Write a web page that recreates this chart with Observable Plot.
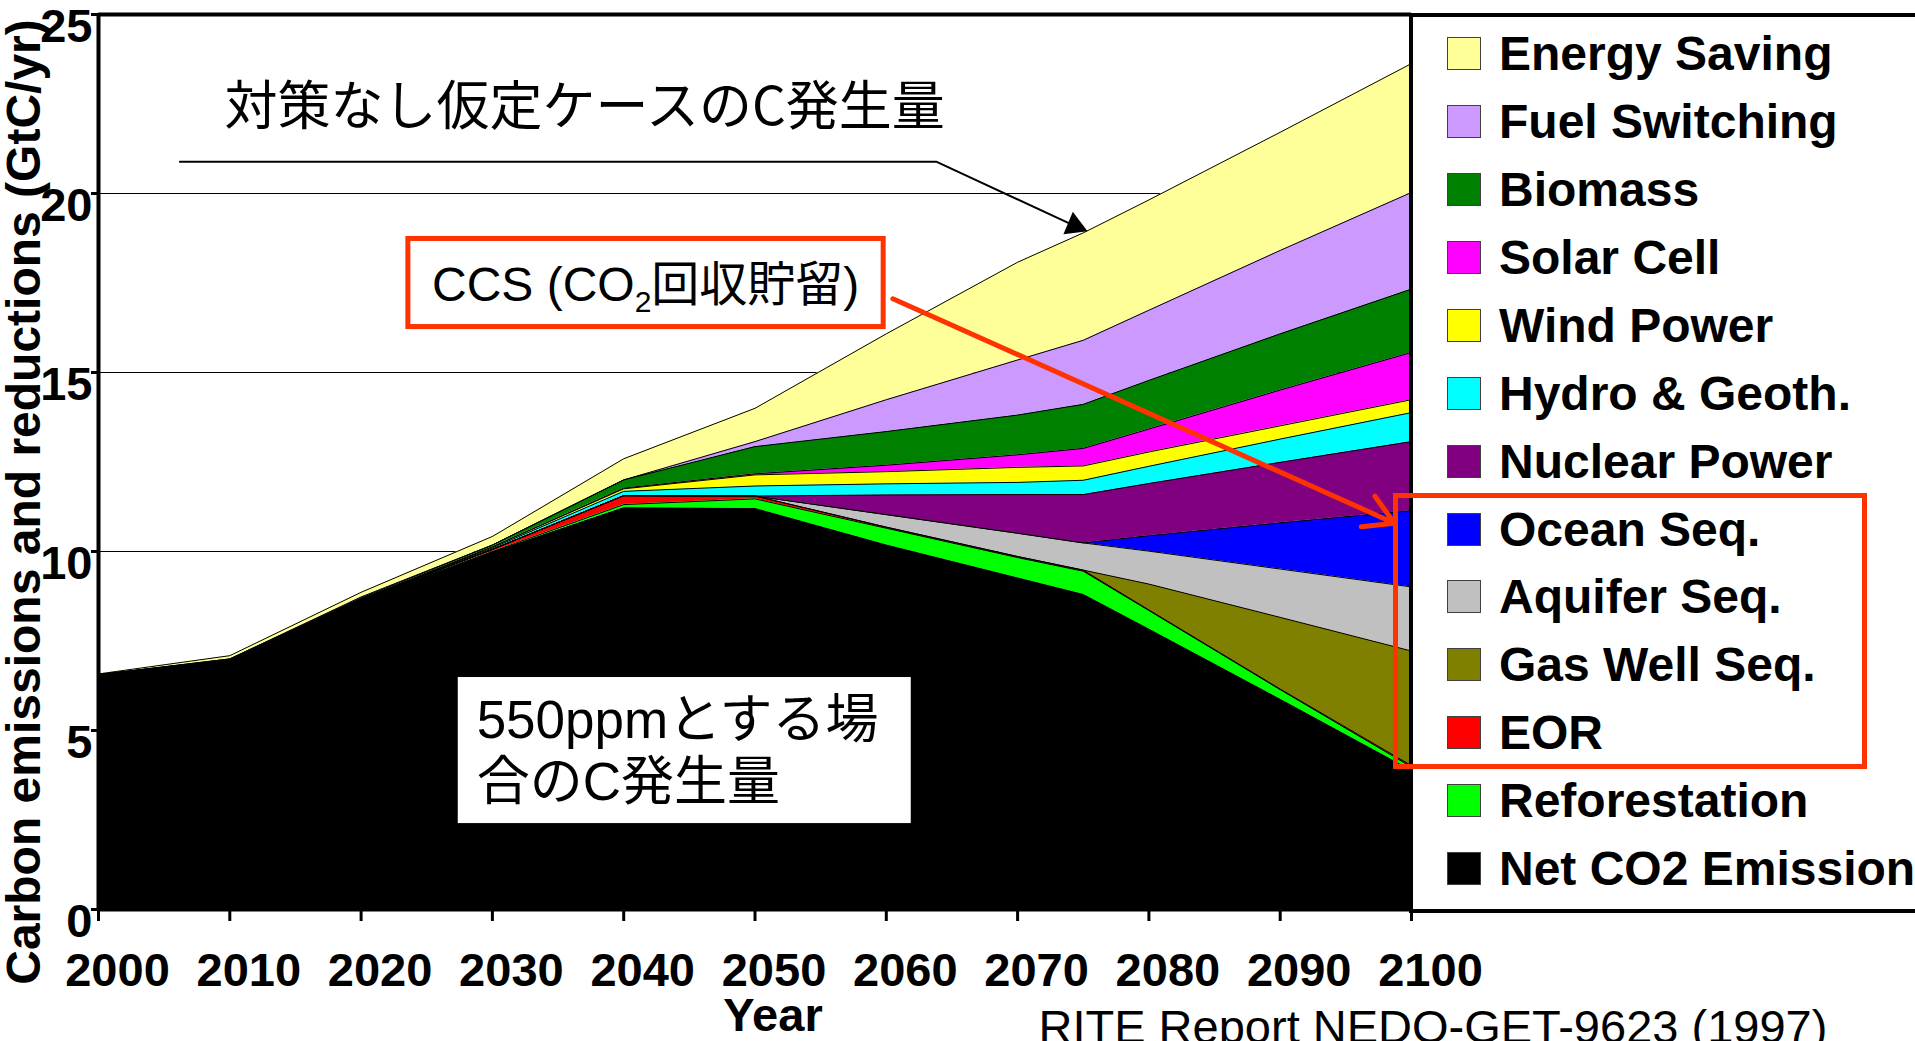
<!DOCTYPE html>
<html><head><meta charset="utf-8">
<script src="https://cdn.jsdelivr.net/npm/d3@7"></script>
<script src="https://cdn.jsdelivr.net/npm/@observablehq/plot@0.6"></script>
<style>
html,body{margin:0;padding:0;background:#fff;overflow:hidden}
#wrap{position:relative;width:1915px;height:1041px;overflow:hidden;font-family:"Liberation Sans",Arial,sans-serif}
#chart{position:absolute;left:0;top:0}
#legend{position:absolute;left:1409px;top:13px;width:520px;height:900px;box-sizing:border-box;border-left:4px solid #000;border-top:4px solid #000;border-bottom:4px solid #000}
.item{position:absolute;left:34px;height:68px;display:flex;align-items:center;white-space:nowrap;font-weight:bold;font-size:48px;color:#000}
.sw{width:34px;height:33px;box-sizing:border-box;border:1.5px solid #404040;margin-right:18px;flex:none}
#redbox{position:absolute;left:1393px;top:493px;width:474px;height:276px;box-sizing:border-box;border:5px solid #ff3300}
</style></head>
<body><div id="wrap"><div id="chart"></div><div id="legend"></div><div id="redbox"></div></div>
<script>
// ---- data ----
const years = [2000, 2010, 2020, 2030, 2040, 2050, 2060, 2070, 2075, 2080, 2090, 2100];
const netCO2        = [6.56, 6.91, 8.63, 9.98, 11.22, 11.20, 10.18, 9.26, 8.80, 7.83, 5.87, 3.88];
const reforestation = [0, 0.02, 0.02, 0.02, 0.09, 0.27, 0.47, 0.57, 0.65, 0.52, 0.27, 0.10];
const eor           = [0, 0, 0, 0.06, 0.25, 0.08, 0.03, 0.03, 0.03, 0.02, 0.02, 0.04];
const gasWellSeq    = [0, 0, 0, 0, 0, 0, 0, 0, 0, 0.72, 2.00, 3.20];
const aquiferSeq    = [0, 0, 0, 0, 0, 0, 0.35, 0.65, 0.76, 0.92, 1.35, 1.79];
const oceanSeq      = [0, 0, 0, 0, 0, 0, 0, 0, 0, 0.43, 1.29, 2.13];
const nuclear       = [0, 0.03, 0.02, 0, 0, 0, 0.55, 1.08, 1.35, 1.46, 1.69, 1.93];
const hydroGeoth    = [0, 0.02, 0, 0.04, 0.12, 0.28, 0.31, 0.34, 0.40, 0.48, 0.65, 0.81];
const windPower     = [0, 0, 0, 0.03, 0.07, 0.31, 0.34, 0.42, 0.40, 0.40, 0.37, 0.36];
const solarCell     = [0, 0, 0, 0, 0.02, 0.03, 0.18, 0.35, 0.49, 0.64, 1.00, 1.32];
const biomass       = [0, 0.02, 0.03, 0.05, 0.23, 0.76, 0.94, 1.11, 1.23, 1.36, 1.57, 1.77];
const fuelSwitching = [0, 0, 0.03, 0, 0, 0.14, 0.89, 1.54, 1.79, 1.96, 2.33, 2.70];
const energySaving  = [0.02, 0.09, 0.13, 0.24, 0.59, 0.93, 1.84, 2.73, 3.00, 3.08, 3.30, 3.60];

// stacking order bottom -> top
const seriesNames = ["Net CO2 Emission", "Reforestation", "EOR", "Gas Well Seq.", "Aquifer Seq.", "Ocean Seq.",
  "Nuclear Power", "Hydro & Geoth.", "Wind Power", "Solar Cell", "Biomass", "Fuel Switching", "Energy Saving"];
const seriesColors = ["#000000", "#00ff00", "#ff0000", "#808000", "#c0c0c0", "#0000ff",
  "#800080", "#00ffff", "#ffff00", "#ff00ff", "#008000", "#cc99ff", "#ffff99"];
const seriesValues = [netCO2, reforestation, eor, gasWellSeq, aquiferSeq, oceanSeq,
  nuclear, hydroGeoth, windPower, solarCell, biomass, fuelSwitching, energySaving];
// legend order (top -> bottom)
const legendNames = seriesNames.slice().reverse();

const xTicks = [2000, 2010, 2020, 2030, 2040, 2050, 2060, 2070, 2080, 2090, 2100];
const yTicks = [0, 5, 10, 15, 20, 25];
const gridValues = [5, 10, 15, 20];

const yLabel = "Carbon emissions and reductions (GtC/yr)";
const xLabel = "Year";
const caption = "RITE Report NEDO-GET-9623 (1997)";
const topNote = {x: 2009.6, y: 22.39, text: "対策なし仮定ケースのC発生量"};
const calloutPts = [{x: 2006.2, y: 20.89}, {x: 2063.8, y: 20.89}, {x: 2073.9, y: 19.17}];
const calloutHead = {x: 2074.34, y: 19.10};
const ccsBox = {x1: 2023.6, x2: 2059.8, y1: 18.73, y2: 16.27};
const ccsLabel = {x: 2025.4, y: 17.44, text: "CCS (CO2回収貯留)"};
const ccsArrow = {x1: 2060.5, y1: 17.06, x2: 2098.7, y2: 10.79};
const box550 = {x1: 2027.4, x2: 2061.9, y1: 6.48, y2: 2.40};
const lines550 = [{x: 2028.8, y: 5.26, text: "550ppmとする場"}, {x: 2028.8, y: 3.52, text: "合のC発生量"}];

// ---- build long table ----
const rows = [];
years.forEach((yr, i) => seriesNames.forEach((n, k) => rows.push({year: yr, series: n, value: seriesValues[k][i]})));

const latinJP = '"Liberation Sans", Arial, "Noto Sans CJK JP", sans-serif';
const jp = '"Noto Sans CJK JP", sans-serif';
const RED = "#ff3300";

const chart = Plot.plot({
  width: 1915, height: 1041,
  marginLeft: 98, marginRight: 504, marginTop: 14, marginBottom: 132,
  x: {domain: [2000, 2100], label: null},
  y: {domain: [0, 25], label: null},
  color: {domain: seriesNames, range: seriesColors},
  style: {fontFamily: '"Liberation Sans", Arial, sans-serif', background: "white"},
  marks: [
    Plot.ruleY(gridValues, {stroke: "#000", strokeWidth: 1}),
    Plot.areaY(rows, {x: "year", y: "value", z: "series", fill: "series", order: seriesNames, curve: "linear"}),
    Plot.lineY(rows, Plot.stackY2({x: "year", y: "value", z: "series", order: seriesNames, stroke: "#000", strokeWidth: 1})),
    Plot.ruleY([25], {stroke: "#000", strokeWidth: 4}),
    Plot.ruleY([0], {stroke: "#000", strokeWidth: 4}),
    Plot.ruleX([2000], {stroke: "#000", strokeWidth: 4}),
    Plot.axisX({ticks: xTicks, tickSize: 12, strokeWidth: 3, tickFormat: () => "", label: null}),
    Plot.axisY({ticks: yTicks, tickSize: 7, strokeWidth: 3, tickFormat: () => "", label: null}),
    Plot.text(xTicks, {x: d => d, frameAnchor: "bottom", dy: 76, dx: 19, text: d => String(d),
      fontSize: 47, fontWeight: "bold", fill: "#000"}),
    Plot.text(yTicks, {y: d => d, frameAnchor: "left", dx: -6, dy: 12, textAnchor: "end", text: d => String(d),
      fontSize: 47, fontWeight: "bold", fill: "#000"}),
    Plot.text([yLabel], {frameAnchor: "left", dx: -74, dy: 40, rotate: -90, textAnchor: "middle", text: d => d,
      fontSize: 48, fontWeight: "bold", fill: "#000"}),
    Plot.text([xLabel], {frameAnchor: "bottom", dx: 18, dy: 121, textAnchor: "middle", text: d => d,
      fontSize: 47, fontWeight: "bold", fill: "#000"}),
    Plot.text([caption], {frameAnchor: "bottom-left", dx: 940, dy: 133, textAnchor: "start", text: d => d,
      fontSize: 47, fill: "#000"}),
    // annotations
    Plot.rect([box550], {x1: "x1", x2: "x2", y1: "y1", y2: "y2", fill: "white"}),
    Plot.text(lines550, {x: "x", y: "y", text: "text", textAnchor: "start", fontSize: 53, fontFamily: latinJP, fill: "#000"}),
    Plot.text([topNote], {x: "x", y: "y", text: "text", textAnchor: "start", fontSize: 53, fontFamily: jp, fill: "#000"}),
    Plot.line(calloutPts, {x: "x", y: "y", stroke: "#000", strokeWidth: 2, curve: "linear"}),
    Plot.dot([calloutHead], {x: "x", y: "y", symbol: "triangle", r: 9, fill: "#000", rotate: 112.8}),
    Plot.rect([ccsBox], {x1: "x1", x2: "x2", y1: "y1", y2: "y2", fill: "white", stroke: RED, strokeWidth: 5}),
    Plot.text([ccsLabel], {x: "x", y: "y", text: "text", textAnchor: "start", fontSize: 48, fontFamily: latinJP, fill: "#000"}),
    Plot.arrow([ccsArrow], {x1: "x1", y1: "y1", x2: "x2", y2: "y2", stroke: RED, strokeWidth: 5, headLength: 10, strokeLinecap: "round"})
  ]
});
document.getElementById("chart").append(chart);

// subscript 2 in CO2
const svgNS = "http://www.w3.org/2000/svg";
for (const t of chart.querySelectorAll("text")) {
  if (t.textContent === ccsLabel.text) {
    t.textContent = "";
    const a = document.createElementNS(svgNS, "tspan"); a.textContent = "CCS (CO";
    const b = document.createElementNS(svgNS, "tspan"); b.textContent = "2";
    b.setAttribute("font-size", "30"); b.setAttribute("dy", "11");
    const c = document.createElementNS(svgNS, "tspan"); c.textContent = "回収貯留)"; c.setAttribute("dy", "-11");
    t.append(a, b, c);
  }
}

// legend
const legend = document.getElementById("legend");
legendNames.forEach((n, i) => {
  const item = document.createElement("div");
  item.className = "item";
  item.style.top = (36.7 + i * 67.9 - 34) + "px";
  const sw = document.createElement("div");
  sw.className = "sw";
  sw.style.background = seriesColors[seriesNames.indexOf(n)];
  const lab = document.createElement("span");
  lab.textContent = n;
  item.append(sw, lab);
  legend.append(item);
});
</script>
</body></html>
